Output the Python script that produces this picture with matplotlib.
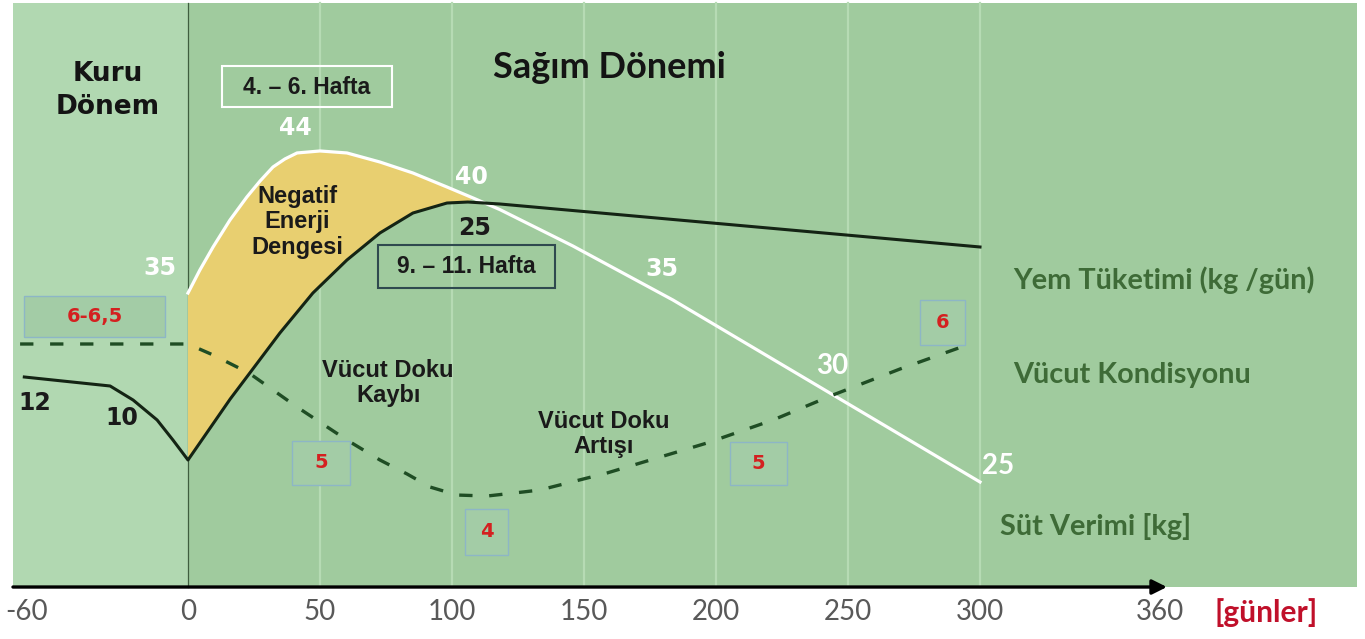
import numpy as np
import matplotlib.pyplot as plt
from matplotlib.patches import Rectangle

# schematic lactation chart: x in days, y in relative level (0 = axis, 100 = top)
feed_days = [-62, -29.5, -20.8, -11.7, -5.7, 0, 16.0, 24.5, 34.8, 47.3, 60.2, 72.7, 85.2, 98.1, 106, 118.2, 183.7, 300]
feed_level = [35.96, 34.42, 32.02, 28.60, 25.17, 21.75, 32.20, 37.30, 43.49, 50.34, 55.99, 60.62, 64.04, 65.75, 65.92, 65.58, 62.93, 58.22]

milk_days = [0, 4.5, 9.5, 15.9, 22.3, 27.3, 32.2, 36.7, 41.3, 50.0, 60.2, 72.7, 85.2, 98.1, 108.0, 118.2, 145.8, 183.7, 300]
milk_level = [50.34, 54.28, 58.22, 62.84, 66.78, 69.52, 71.92, 73.29, 74.32, 74.66, 74.32, 72.77, 70.89, 68.49, 66.61, 64.61, 58.39, 49.14, 17.98]

cond_days = [-63.6, 0, 9.5, 23.1, 41.3, 60.2, 72.7, 83.0, 91.7, 101.9, 113.3, 126.9, 133.3, 158.7, 196.6, 221.6, 244.3, 269.7, 295.1]
cond_level = [41.61, 41.61, 39.73, 36.64, 30.82, 25.17, 21.75, 19.35, 17.12, 15.75, 15.58, 16.27, 16.61, 19.52, 24.66, 28.60, 32.88, 37.33, 41.44]

tick_pos = [-61, 0, 50, 100, 150, 200, 250, 300, 368]
tick_labels = ['-60', '0', '50', '100', '150', '200', '250', '300', '360']
grid_days = [50, 100, 150, 200, 250, 300]

# red condition score boxes: (label, x0, x1, y0, y1)
score_boxes = [
    ('6-6,5', -62.1, -8.7, 42.8, 49.8),
    ('5', 39.4, 61.4, 17.5, 25.0),
    ('4', 104.9, 121.2, 5.5, 13.4),
    ('5', 205.3, 226.9, 17.5, 24.8),
    ('6', 277.3, 294.3, 41.4, 49.1),
]

# white milk-yield numbers: (label, x, y, font)
milk_labels = [('35', -10.6, 54.6, 'DejaVu Sans'), ('44', 40.5, 78.6, 'DejaVu Sans'),
               ('40', 107.2, 70.2, 'DejaVu Sans'), ('35', 179.5, 54.4, 'DejaVu Sans'),
               ('30', 243.9, 37.8, 'Lato'), ('25', 306.8, 20.7, 'Lato')]
feed_labels = [('12', -58.0, 31.5), ('10', -25.0, 28.9), ('25', 108.7, 61.5)]

fig = plt.figure(figsize=(13.65, 6.39), dpi=100)
ax = fig.add_axes([0, 0, 1, 1])
ax.set_xlim(-71.21, 445.83)
ax.set_ylim(-8.90, 100.51)
ax.axis('off')

# background panels
ax.add_patch(Rectangle((-66.3, 0), 66.3, 100, facecolor='#b1d8b1', edgecolor='none', zorder=0))
ax.add_patch(Rectangle((0, 0), 442.8, 100, facecolor='#a0cb9e', edgecolor='none', zorder=0))
for g in grid_days:
    ax.plot([g, g], [0, 100], color='#b6dbb4', lw=1.6, zorder=1)
ax.plot([0, 0], [0, 100], color='#3f5e3f', lw=0.9, zorder=2)

# negative energy balance area
md = np.array(milk_days)
fd = np.array(feed_days)
wm = md <= 108
bm = (fd >= 0) & (fd <= 106)
poly_x = np.concatenate([md[wm], fd[bm][::-1]])
poly_y = np.concatenate([np.array(milk_level)[wm], np.array(feed_level)[bm][::-1]])
ax.fill(poly_x, poly_y, color='#e8cf70', zorder=2, lw=0)

ax.plot(feed_days, feed_level, color='#142414', lw=2.2, zorder=4, solid_joinstyle='round')
ax.plot(milk_days, milk_level, color='white', lw=2.3, zorder=3, solid_joinstyle='round')
ax.plot(cond_days, cond_level, color='#1f4d24', lw=2.4, dashes=(4, 5), zorder=4)

# x axis with arrow
ax.annotate('', xy=(370.8, 0), xytext=(-66.3, 0),
            arrowprops=dict(arrowstyle='-|>', lw=2.4, color='black', mutation_scale=22,
                            shrinkA=0, shrinkB=0), zorder=5)
for p, lab in zip(tick_pos, tick_labels):
    ax.text(p, -4.3, lab, ha='center', va='center', fontsize=20, color='#595959', family='Lato')
ax.text(408.3, -4.3, '[günler]', ha='center', va='center', fontsize=21.5, color='#c0102a',
        family='Lato', fontweight='bold')

# period titles
ax.text(-30.3, 85.1, 'Kuru\nDönem', ha='center', va='center', fontsize=19, fontweight='bold',
        color='#141414', family='DejaVu Sans', linespacing=1.35)
ax.text(159.8, 88.9, 'Sağım Dönemi', ha='center', va='center', fontsize=26, fontweight='bold',
        color='#141414', family='Lato')

# week boxes
ax.add_patch(Rectangle((12.9, 82.2), 64.4, 7.0, facecolor='none', edgecolor='white', lw=1.5, zorder=5))
ax.text(45.1, 85.6, '4. – 6. Hafta', ha='center', va='center', fontsize=16.5, fontweight='bold',
        color='#1a1a1a', family='Liberation Sans', zorder=6)
ax.add_patch(Rectangle((72.0, 51.2), 67.0, 7.4, facecolor='none', edgecolor='#2f4a4f', lw=1.5, zorder=5))
ax.text(105.3, 54.8, '9. – 11. Hafta', ha='center', va='center', fontsize=16.5, fontweight='bold',
        color='#1a1a1a', family='Liberation Sans', zorder=6)

ax.text(41.3, 62.5, 'Negatif\nEnerji\nDengesi', ha='center', va='center', fontsize=17,
        fontweight='bold', color='#1a1a1a', family='Liberation Sans', linespacing=1.15, zorder=6)
ax.text(75.8, 34.9, 'Vücut Doku\nKaybı', ha='center', va='center', fontsize=17,
        fontweight='bold', color='#1a1a1a', family='Liberation Sans', linespacing=1.12, zorder=6)
ax.text(157.6, 26.2, 'Vücut Doku\nArtışı', ha='center', va='center', fontsize=17,
        fontweight='bold', color='#1a1a1a', family='Liberation Sans', linespacing=1.12, zorder=6)

for lab, x, y, fam in milk_labels:
    ax.text(x, y, lab, ha='center', va='center', fontsize=17 if fam == 'DejaVu Sans' else 20,
            fontweight='bold', color='white', family=fam, zorder=6)
for lab, x, y in feed_labels:
    ax.text(x, y, lab, ha='center', va='center', fontsize=17, fontweight='bold',
            color='#1a1a1a', family='DejaVu Sans', zorder=6)

for lab, x0, x1, y0, y1 in score_boxes:
    ax.add_patch(Rectangle((x0, y0), x1 - x0, y1 - y0, facecolor='#a3cca6', edgecolor='#8db6c6',
                           lw=1.0, zorder=5))
    ax.text((x0 + x1) / 2, (y0 + y1) / 2, lab, ha='center', va='center', fontsize=14,
            fontweight='bold', color='#d42020', family='DejaVu Sans', zorder=6)

# legend-like labels on the right
ax.text(312.5, 52.6, 'Yem Tüketimi (kg /gün)', ha='left', va='center', fontsize=20.8,
        fontweight='bold', color='#3e6b37', family='Lato')
ax.text(312.5, 36.3, 'Vücut Kondisyonu', ha='left', va='center', fontsize=20.8,
        fontweight='bold', color='#3e6b37', family='Lato')
ax.text(307.6, 10.3, 'Süt Verimi [kg]', ha='left', va='center', fontsize=20.8,
        fontweight='bold', color='#3e6b37', family='Lato')

fig.savefig('out.png', dpi=100)
